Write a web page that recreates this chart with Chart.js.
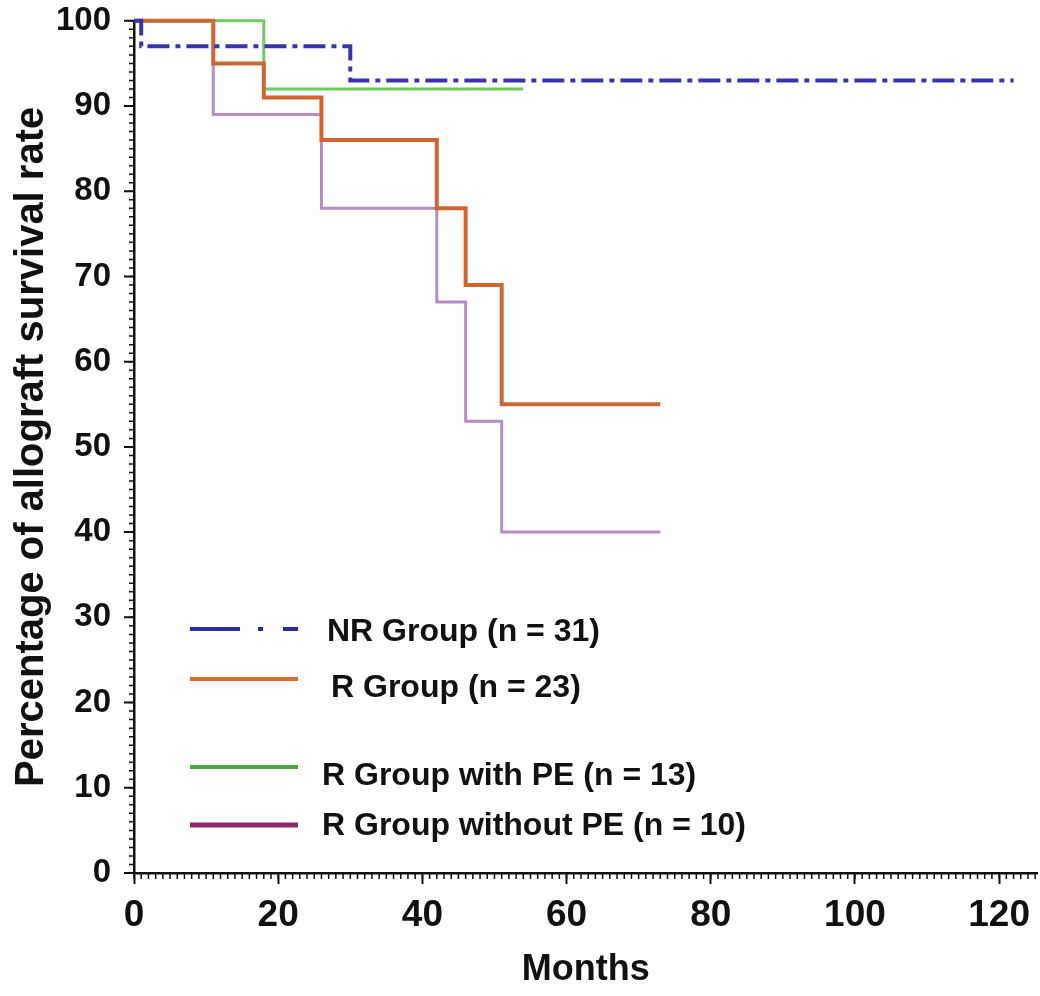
<!DOCTYPE html>
<html>
<head>
<meta charset="utf-8">
<script src="https://cdn.jsdelivr.net/npm/chart.js@4/dist/chart.umd.min.js"></script>
<style>
  html, body { margin: 0; padding: 0; background: #fff; }
</style>
</head>
<body>
<canvas id="grafico" width="1040" height="996"></canvas>
<script>
// ===============================
// DATA
// ===============================

const monthsNR = [0, 1, 30, 122];
const survivalNR = [100, 97, 93, 93];

const monthsR = [0, 11, 18, 26, 42, 46, 51, 73];
const survivalR = [100, 95, 91, 86, 78, 69, 55, 55];

const monthsRWithPE = [0, 18, 54];
const survivalRWithPE = [100, 92, 92];

const monthsRWithoutPE = [0, 11, 26, 42, 46, 51, 73];
const survivalRWithoutPE = [100, 89, 78, 67, 53, 40, 40];

const groupNames = ["NR Group (n = 31)", "R Group (n = 23)", "R Group with PE (n = 13)", "R Group without PE (n = 10)"];

const xTickValues = [0, 20, 40, 60, 80, 100, 120];
const yTickValues = [0, 10, 20, 30, 40, 50, 60, 70, 80, 90, 100];

// ===============================
// STYLE
// ===============================

const FONT = "'Liberation Sans', Arial, sans-serif";
const lineColors = ["#3a33b0", "#cf6530", "#6ccc5c", "#b78bca"];
const legendColors = ["#2c2ca0", "#e06a30", "#4aa840", "#8c2a6c"];

// legend rows: line y, text x, text y
const legendRows = [
    { lineY: 629, textX: 327, textY: 632 },
    { lineY: 679, textX: 331, textY: 688 },
    { lineY: 767, textX: 322, textY: 776 },
    { lineY: 825, textX: 322, textY: 826 }
];

function pontos(xs, ys) {
    return xs.map((x, i) => ({ x: x, y: ys[i] }));
}

// ===============================
// PLUGINS
// ===============================

// minor ticks every unit + major ticks on the y axis
const axisTicks = {
    id: "axisTicks",
    afterDraw(chart) {
        const ctx = chart.ctx;
        const x = chart.scales.x;
        const y = chart.scales.y;
        ctx.save();
        ctx.strokeStyle = "#111";
        ctx.lineWidth = 1.5;
        ctx.beginPath();
        for (let v = 0; v <= 100; v++) {
            const py = y.getPixelForValue(v);
            ctx.moveTo(x.left - 5, py);
            ctx.lineTo(x.left, py);
        }
        for (let v = 0; v <= x.max; v++) {
            const px = x.getPixelForValue(v);
            ctx.moveTo(px, y.bottom);
            ctx.lineTo(px, y.bottom + 6);
        }
        ctx.stroke();

        ctx.lineWidth = 2;
        ctx.beginPath();
        yTickValues.forEach(v => {
            const py = y.getPixelForValue(v);
            ctx.moveTo(x.left - 10, py);
            ctx.lineTo(x.left, py);
        });
        ctx.stroke();
        ctx.restore();
    }
};

const legendInside = {
    id: "legendInside",
    afterDatasetsDraw(chart) {
        const ctx = chart.ctx;
        ctx.save();
        ctx.font = "bold 32px " + FONT;
        ctx.textBaseline = "middle";
        legendRows.forEach((row, i) => {
            ctx.strokeStyle = legendColors[i];
            ctx.lineWidth = i === 3 ? 5 : 4;
            ctx.setLineDash(i === 0 ? [50, 18, 5, 20, 15, 100] : []);
            ctx.beginPath();
            ctx.moveTo(190, row.lineY);
            ctx.lineTo(298, row.lineY);
            ctx.stroke();
            ctx.setLineDash([]);
            ctx.fillStyle = "#111";
            ctx.fillText(groupNames[i], row.textX, row.textY);
        });
        ctx.restore();
    }
};

// ===============================
// CHART
// ===============================

new Chart(document.getElementById("grafico"), {
    type: "line",
    data: {
        datasets: [
            { label: groupNames[0], data: pontos(monthsNR, survivalNR), borderColor: lineColors[0], borderWidth: 4, borderDash: [22, 6, 5, 6], order: 0 },
            { label: groupNames[1], data: pontos(monthsR, survivalR), borderColor: lineColors[1], borderWidth: 4, order: 1 },
            { label: groupNames[2], data: pontos(monthsRWithPE, survivalRWithPE), borderColor: lineColors[2], borderWidth: 3, order: 2 },
            { label: groupNames[3], data: pontos(monthsRWithoutPE, survivalRWithoutPE), borderColor: lineColors[3], borderWidth: 3, order: 3 }
        ].map(d => Object.assign(d, { stepped: "before", pointRadius: 0, fill: false, clip: 8 }))
    },
    options: {
        responsive: false,
        devicePixelRatio: 1,
        animation: false,
        layout: { padding: { top: 15, right: 0, left: 0, bottom: 0 } },
        plugins: {
            legend: { display: false },
            tooltip: { enabled: false }
        },
        scales: {
            x: {
                type: "linear",
                min: 0,
                max: 125.3,
                afterBuildTicks: s => { s.ticks = xTickValues.map(v => ({ value: v })); },
                afterFit: s => { s.height = 123; },
                grid: { drawOnChartArea: false, drawTicks: true, tickLength: 11, tickColor: "#111", tickWidth: 2 },
                border: { display: true, color: "#111", width: 2.5 },
                ticks: { color: "#111", padding: 10, maxRotation: 0, font: { family: FONT, weight: "bold", size: 37 } },
                title: { display: true, text: "Months", color: "#111", padding: { top: 0, bottom: 4 }, font: { family: FONT, weight: "bold", size: 36 } }
            },
            y: {
                min: 0,
                max: 100,
                afterBuildTicks: s => { s.ticks = yTickValues.map(v => ({ value: v })); },
                afterFit: s => { s.width = 134; },
                grid: { drawOnChartArea: false, drawTicks: true, tickLength: 22, tickColor: "rgba(0,0,0,0)", tickWidth: 1 },
                border: { display: true, color: "#111", width: 2.5 },
                ticks: { color: "#111", padding: 1, font: { family: FONT, weight: "bold", size: 33 } },
                title: { display: true, text: "Percentage of allograft survival rate", color: "#111", padding: { top: 8, bottom: 0 }, font: { family: FONT, weight: "bold", size: 40 } }
            }
        }
    },
    plugins: [axisTicks, legendInside]
});
</script>
</body>
</html>
